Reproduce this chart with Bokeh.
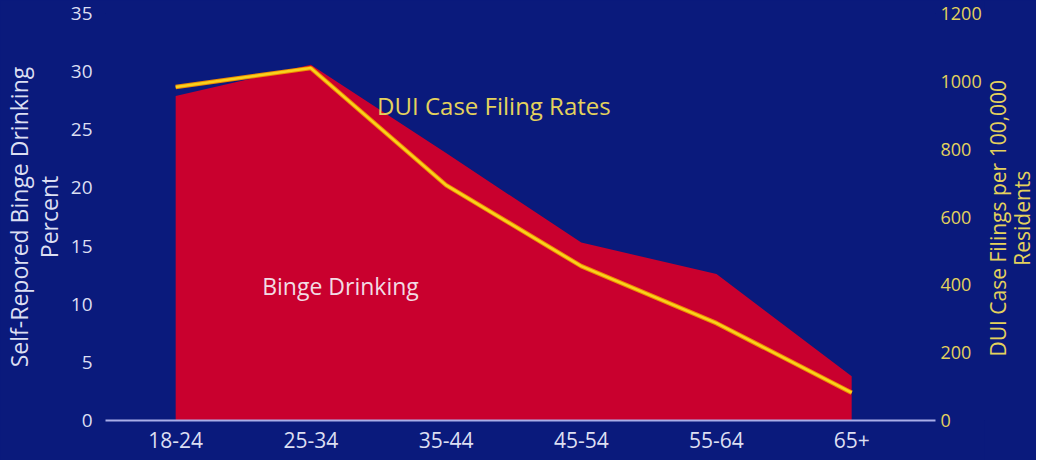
import math
from bokeh.plotting import figure
from bokeh.layouts import row
from bokeh.models import Range1d, LinearAxis, FixedTicker, Label
from bokeh.embed import file_html
from bokeh.resources import INLINE

# ---- data ----
age_groups = ["18-24", "25-34", "35-44", "45-54", "55-64", "65+"]
binge_pct = [27.9, 30.6, 23.0, 15.3, 12.6, 3.8]
dui_rates = [983, 1039, 694, 455, 287, 82]
left_ticks = [0, 5, 10, 15, 20, 25, 30, 35]
right_ticks = [0, 200, 400, 600, 800, 1000, 1200]

BG = "#0A1A7C"
RED = "#C9002E"
YEL = "#F7D21E"
YEL_TXT = "#E4D25C"
WHITE_TXT = "#DCDFF2"
FONT = "Open Sans"

xs = list(range(len(age_groups)))

p = figure(
    width=984, height=460,
    x_range=Range1d(-0.519, 5.62), y_range=Range1d(0, 35),
    output_backend="svg", toolbar_location=None,
    background_fill_color=BG, border_fill_color=BG,
    min_border_left=97, min_border_right=47, min_border_top=13, min_border_bottom=40,
)
p.outline_line_color = None
p.grid.visible = False
p.extra_y_ranges = {"dui": Range1d(0, 1200)}

p.varea(x=xs, y1=[0] * len(xs), y2=binge_pct, fill_color=RED)
p.line(x=xs, y=dui_rates, y_range_name="dui", line_color="#F08A00", line_width=4.5)
p.line(x=xs, y=dui_rates, y_range_name="dui", line_color=YEL, line_width=2.5)


def plain(ax):
    ax.major_tick_line_color = None
    ax.minor_tick_line_color = None
    ax.major_tick_out = 0
    ax.major_tick_in = 0
    ax.minor_tick_out = 0
    ax.minor_tick_in = 0


# x axis
xa = p.xaxis[0]
plain(xa)
xa.ticker = FixedTicker(ticks=xs)
xa.major_label_overrides = {i: lab for i, lab in enumerate(age_groups)}
xa.axis_line_color = "#A9AEE8"
xa.axis_line_width = 2
xa.major_label_text_color = WHITE_TXT
xa.major_label_text_font = FONT
xa.major_label_text_font_size = "21px"
xa.major_label_standoff = 11

# left axis
ya = p.yaxis[0]
plain(ya)
ya.ticker = FixedTicker(ticks=left_ticks)
ya.axis_line_color = None
ya.major_label_text_color = WHITE_TXT
ya.major_label_text_font = FONT
ya.major_label_text_font_size = "19px"
ya.major_label_standoff = 13
ya.axis_label = "Self-Repored Binge Drinking\nPercent"
ya.axis_label_text_color = WHITE_TXT
ya.axis_label_text_font = FONT
ya.axis_label_text_font_size = "23px"
ya.axis_label_text_font_style = "normal"
ya.axis_label_text_line_height = 0.93
ya.axis_label_standoff = 3

# right axis
ra = LinearAxis(y_range_name="dui", ticker=FixedTicker(ticks=right_ticks))
plain(ra)
ra.axis_line_color = None
ra.major_label_text_color = YEL_TXT
ra.major_label_text_font = FONT
ra.major_label_text_font_size = "18px"
ra.major_label_standoff = 5
p.add_layout(ra, "right")

p.add_layout(Label(x=1.49, y=27.1, text="DUI Case Filing Rates", text_color=YEL_TXT,
                   text_font=FONT, text_font_size="24px", text_baseline="middle"))
p.add_layout(Label(x=0.64, y=11.6, text="Binge Drinking", text_color="#F2DCE4",
                   text_font=FONT, text_font_size="23px", text_baseline="middle"))

# narrow panel carrying the right axis title (reads bottom-to-top)
t = figure(
    width=52, height=460, x_range=Range1d(0, 1), y_range=Range1d(0, 1),
    output_backend="svg", toolbar_location=None,
    x_axis_type=None, y_axis_type=None,
    background_fill_color=BG, border_fill_color=BG,
    min_border_left=0, min_border_right=0, min_border_top=0, min_border_bottom=0,
)
t.outline_line_color = None
t.grid.visible = False
t.add_layout(Label(x=0.49, y=0.497, text="DUI Case Filings per 100,000\nResidents",
                   angle=math.pi / 2, text_color=YEL_TXT, text_font=FONT,
                   text_font_size="21px", text_align="center", text_baseline="middle",
                   text_line_height=0.86))

layout = row(p, t, spacing=0)
layout.styles = {"background-color": BG}
open("out.html", "w").write(file_html(layout, INLINE))
